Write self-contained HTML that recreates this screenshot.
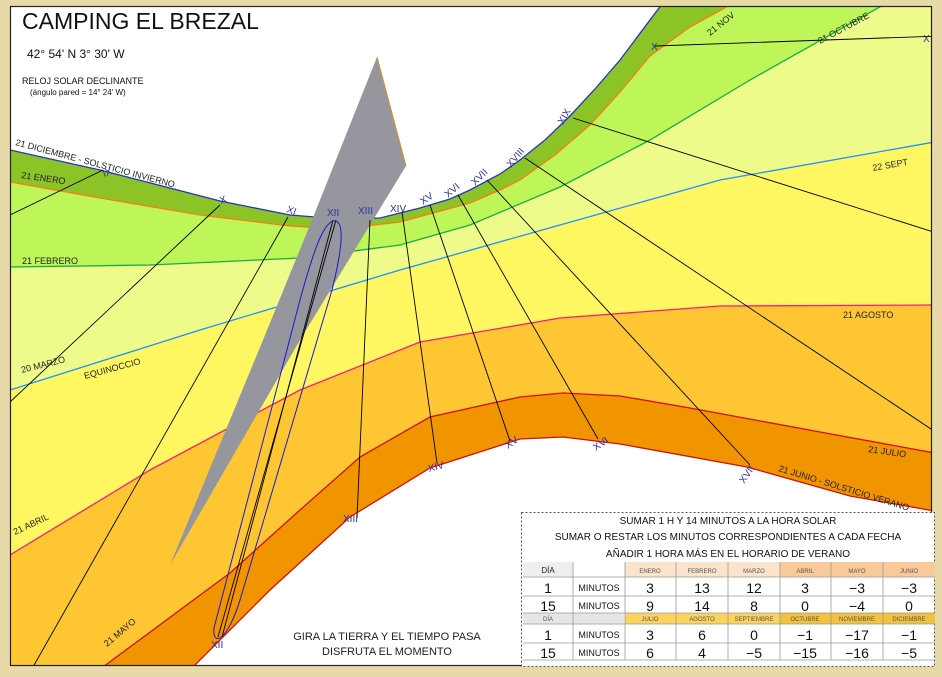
<!DOCTYPE html>
<html><head><meta charset="utf-8"><style>
html,body{margin:0;padding:0;background:#e8d9a8;}
svg{display:block}
text{font-family:"Liberation Sans",sans-serif;}
</style></head><body>
<svg width="942" height="677" viewBox="0 0 942 677" xmlns="http://www.w3.org/2000/svg">
<rect x="0" y="0" width="942" height="677" fill="#e8d9a8"/>
<rect x="10" y="6" width="922" height="660" fill="#ffffff"/>
<clipPath id="c"><rect x="10" y="6" width="922" height="660"/></clipPath>
<g clip-path="url(#c)">
<path d="M10,150 L100,170 L220,201 L290,215 L340,219 L380,218 L420,208 L450,199 L470,190 L500,174 L520,160 L545,140 L570,116 L595,89 L620,60 L662,4 L940,4 L940,670 L10,670Z" fill="#8cc428"/>
<path d="M10,182 L100,198 L200,215 L290,226 L340,229 L400,222 L470,203 L500,190 L520,180 L555,155 L590,125 L620,92 L650,56 L690,27 L732,4 L940,4 L940,670 L10,670Z" fill="#bef65a"/>
<path d="M10,267 L150,265 L300,258 L400,245 L470,225 L560,187 L650,140 L750,80 L885,4 L940,4 L940,670 L10,670Z" fill="#eefb8a"/>
<path d="M10,390 L200,330 L400,270 L560,225 L720,180 L940,141 L940,670 L10,670Z" fill="#fff761"/>
<path d="M10,555 L150,470 L300,390 L420,342 L560,318 L720,306 L940,305 L940,670 L10,670Z" fill="#fec633"/>
<path d="M103,667 L230,573 L300,510 L360,457 L430,417 L520,397 L563,393 L620,396 L690,408 L820,432 L940,454 L940,670Z" fill="#f09400"/>
<path d="M193,667 L270,590 L350,517 L430,468 L520,439 L563,437 L620,444 L747,467 L850,496 L940,512 L940,670Z" fill="#ffffff"/>
<g fill="none" stroke-width="1.3">
<polyline points="10,150 100,170 220,201 290,215 340,219 380,218 420,208 450,199 470,190 500,174 520,160 545,140 570,116 595,89 620,60 662,4" stroke="#2233cc"/>
<polyline points="10,182 100,198 200,215 290,226 340,229 400,222 470,203 500,190 520,180 555,155 590,125 620,92 650,56 690,27 732,4" stroke="#ff7a10"/>
<polyline points="10,267 150,265 300,258 400,245 470,225 560,187 650,140 750,80 885,4" stroke="#10b040"/>
<polyline points="10,390 200,330 400,270 560,225 720,180 940,141" stroke="#1e90ff"/>
<polyline points="10,555 150,470 300,390 420,342 560,318 720,306 940,305" stroke="#ff1a7a"/>
<polyline points="103,667 230,573 300,510 360,457 430,417 520,397 563,393 620,396 690,408 820,432 940,454" stroke="#d01010"/>
<polyline points="193,667 270,590 350,517 430,468 520,439 563,437 620,444 747,467 850,496 940,512" stroke="#d01010"/>
</g>
<polygon points="377,57 406,166 373,220 300,340 170,565 263,340 312,220" fill="#96969e"/>
<line x1="377" y1="57" x2="406" y2="166" stroke="#d89020" stroke-width="1"/>
<g stroke="#000" stroke-width="0.9">
<line x1="103" y1="170" x2="10" y2="215"/>
<line x1="220" y1="205" x2="10" y2="402"/>
<line x1="288" y1="217" x2="33" y2="667"/>
<line x1="333" y1="220" x2="222" y2="637"/>
<line x1="336" y1="220" x2="218" y2="637"/>
<line x1="370" y1="220" x2="357" y2="518"/>
<line x1="402" y1="212" x2="437" y2="463"/>
<line x1="430" y1="205" x2="510" y2="441"/>
<line x1="458" y1="195" x2="598" y2="439"/>
<line x1="487" y1="180" x2="750" y2="465"/>
<line x1="525" y1="158" x2="940" y2="435"/>
<line x1="573" y1="118" x2="940" y2="234"/>
<line x1="655" y1="46" x2="940" y2="36"/>
</g>
<path d="M335,221 C345,222 342,250 332,290 L240,600 C228,640 212,648 214,628 L300,300 C315,245 325,220 335,221Z" fill="none" stroke="#1a1acc" stroke-width="1"/>
</g>
<rect x="10.5" y="6.5" width="921" height="659" fill="none" stroke="#222" stroke-width="1.2"/>
<text x="22" y="29" font-size="23" fill="#111">CAMPING EL BREZAL</text>
<text x="27" y="58" font-size="12" fill="#111">42° 54' N  3° 30' W</text>
<text x="22" y="84" font-size="9" fill="#111">RELOJ SOLAR DECLINANTE</text>
<text x="30" y="95" font-size="8" fill="#111">(ángulo pared = 14° 24' W)</text>
<g font-size="9" fill="#222">
<text transform="translate(15,145) rotate(15)">21 DICIEMBRE - SOLSTICIO INVIERNO</text>
<text transform="translate(21,178) rotate(8)">21 ENERO</text>
<text x="22" y="264">21 FEBRERO</text>
<text transform="translate(22,373) rotate(-14)">20 MARZO</text>
<text transform="translate(85,379) rotate(-15)">EQUINOCCIO</text>
<text transform="translate(15,535) rotate(-25)">21 ABRIL</text>
<text transform="translate(107,647) rotate(-40)">21 MAYO</text>
<text transform="translate(710,36) rotate(-38)">21 NOV</text>
<text transform="translate(820,44) rotate(-28)">21 OCTUBRE</text>
<text transform="translate(873,171) rotate(-10)">22 SEPT</text>
<text x="843" y="318">21 AGOSTO</text>
<text transform="translate(868,452) rotate(8)">21 JULIO</text>
<text transform="translate(778,471) rotate(17)">21 JUNIO - SOLSTICIO VERANO</text>
</g>
<g font-size="10" fill="#3030a0">
<text transform="translate(104,177) rotate(-20)">IX</text>
<text transform="translate(221,204) rotate(-20)">X</text>
<text transform="translate(286,212) rotate(20)">XI</text>
<text x="327" y="216">XII</text>
<text x="358" y="214">XIII</text>
<text x="390" y="212">XIV</text>
<text transform="translate(423,205) rotate(-35)">XV</text>
<text transform="translate(448,198) rotate(-40)">XVI</text>
<text transform="translate(475,186) rotate(-45)">XVII</text>
<text transform="translate(511,168) rotate(-50)">XVIII</text>
<text transform="translate(563,125) rotate(-60)">XIX</text>
<text transform="translate(651,50)">X</text>
<text transform="translate(923,42)">X</text>
<text x="211" y="648">XII</text>
<text x="343" y="522">XIII</text>
<text transform="translate(429,472) rotate(-15)">XIV</text>
<text transform="translate(508,449) rotate(-35)">XV</text>
<text transform="translate(596,451) rotate(-35)">XVI</text>
<text transform="translate(744,484) rotate(-55)">XVII</text>
</g>
<text x="387" y="640" font-size="11" fill="#222" text-anchor="middle">GIRA LA TIERRA Y EL TIEMPO PASA</text>
<text x="387" y="655" font-size="11" fill="#222" text-anchor="middle">DISFRUTA EL MOMENTO</text>
<rect x="521.5" y="512.5" width="413" height="154" fill="#fff" stroke="#555" stroke-dasharray="2,2"/>
<g font-size="10" fill="#111" text-anchor="middle">
<text x="728" y="524">SUMAR 1 H Y 14 MINUTOS A LA HORA SOLAR</text>
<text x="728" y="540">SUMAR O RESTAR LOS MINUTOS CORRESPONDIENTES A CADA FECHA</text>
<text x="728" y="557">AÑADIR 1 HORA MÁS EN EL HORARIO DE VERANO</text>
</g>
<rect x="523" y="562" width="50" height="15" fill="#eeeeee"/>
<rect x="625" y="562" width="155" height="15" fill="#fbe3cc"/>
<rect x="780" y="562" width="155" height="15" fill="#f9c99a"/>
<rect x="523" y="613" width="101" height="11" fill="#e6e6e6"/>
<rect x="625" y="613" width="155" height="11" fill="#fbd35e"/>
<rect x="780" y="613" width="155" height="11" fill="#f2c23c"/>
<g stroke="#999" stroke-width="0.8">
<line x1="523" y1="577" x2="935" y2="577"/><line x1="523" y1="596" x2="935" y2="596"/>
<line x1="523" y1="613" x2="935" y2="613"/><line x1="523" y1="624" x2="935" y2="624"/>
<line x1="523" y1="643" x2="935" y2="643"/><line x1="523" y1="660" x2="935" y2="660"/>
<line x1="573" y1="562" x2="573" y2="660"/><line x1="625" y1="562" x2="625" y2="660"/>
<line x1="676" y1="562" x2="676" y2="660"/><line x1="728" y1="562" x2="728" y2="660"/>
<line x1="780" y1="562" x2="780" y2="660"/><line x1="831" y1="562" x2="831" y2="660"/>
<line x1="883" y1="562" x2="883" y2="660"/>
</g>
<g font-size="6" fill="#555" text-anchor="middle">
<text x="650" y="573">ENERO</text><text x="702" y="573">FEBRERO</text><text x="754" y="573">MARZO</text>
<text x="805" y="573">ABRIL</text><text x="857" y="573">MAYO</text><text x="909" y="573">JUNIO</text>
<text x="650" y="621">JULIO</text><text x="702" y="621">AGOSTO</text><text x="754" y="621">SEPTIEMBRE</text>
<text x="805" y="621">OCTUBRE</text><text x="857" y="621">NOVIEMBRE</text><text x="909" y="621">DICIEMBRE</text>
<text x="548" y="621">DÍA</text>
</g>
<text x="548" y="573" font-size="8" fill="#222" text-anchor="middle">DÍA</text>
<g font-size="14" fill="#111" text-anchor="middle">
<text x="548" y="593">1</text><text x="548" y="611">15</text><text x="548" y="640">1</text><text x="548" y="658">15</text>
<text x="650" y="593">3</text><text x="702" y="593">13</text><text x="754" y="593">12</text><text x="805" y="593">3</text><text x="857" y="593">−3</text><text x="909" y="593">−3</text>
<text x="650" y="611">9</text><text x="702" y="611">14</text><text x="754" y="611">8</text><text x="805" y="611">0</text><text x="857" y="611">−4</text><text x="909" y="611">0</text>
<text x="650" y="640">3</text><text x="702" y="640">6</text><text x="754" y="640">0</text><text x="805" y="640">−1</text><text x="857" y="640">−17</text><text x="909" y="640">−1</text>
<text x="650" y="658">6</text><text x="702" y="658">4</text><text x="754" y="658">−5</text><text x="805" y="658">−15</text><text x="857" y="658">−16</text><text x="909" y="658">−5</text>
</g>
<g font-size="9" fill="#111" text-anchor="middle">
<text x="599" y="591">MINUTOS</text><text x="599" y="609">MINUTOS</text>
<text x="599" y="638">MINUTOS</text><text x="599" y="656">MINUTOS</text>
</g>
</svg>
</body></html>
